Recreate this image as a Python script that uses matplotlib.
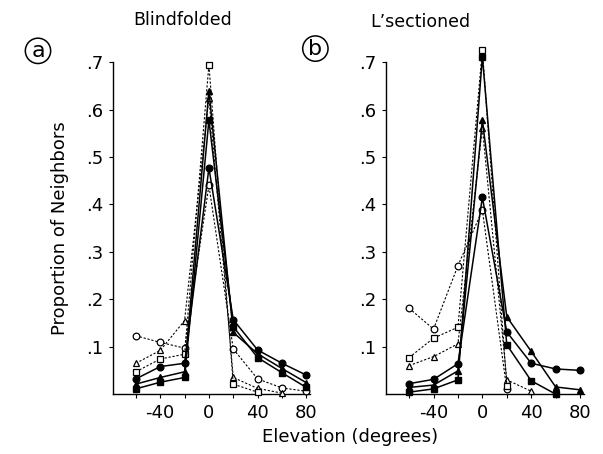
import matplotlib.pyplot as plt
import numpy as np

# elevation (degrees)
elev = [-60, -40, -20, 0, 20, 40, 60, 80]
nan = np.nan

# (a) Blindfolded
a_fcirc = [0.032, 0.058, 0.065, 0.477, 0.157, 0.093, 0.065, 0.040]
a_ftri = [0.021, 0.035, 0.047, 0.640, 0.130, 0.085, 0.054, 0.024]
a_fsq = [0.011, 0.025, 0.035, 0.578, 0.142, 0.077, 0.045, 0.014]
a_ocirc = [0.123, 0.109, 0.097, 0.440, 0.095, 0.032, 0.013, 0.006]
a_otri = [0.065, 0.092, 0.155, 0.625, 0.035, 0.012, 0.002, nan]
a_osq = [0.047, 0.074, 0.084, 0.695, 0.021, 0.004, nan, nan]

# (b) L'sectioned
b_fcirc = [0.022, 0.031, 0.064, 0.415, 0.131, 0.065, 0.053, 0.050]
b_ftri = [0.014, 0.019, 0.049, 0.578, 0.163, 0.090, 0.015, 0.009]
b_fsq = [0.004, 0.011, 0.030, 0.712, 0.104, 0.028, 0.0, nan]
b_ocirc = [0.181, 0.137, 0.271, 0.388, 0.010, nan, nan, nan]
b_otri = [0.060, 0.079, 0.106, 0.562, 0.030, 0.006, nan, nan]
b_osq = [0.077, 0.118, 0.141, 0.726, 0.018, nan, nan, nan]

yticks = [0.1, 0.2, 0.3, 0.4, 0.5, 0.6, 0.7]
ytick_labels = ['.1', '.2', '.3', '.4', '.5', '.6', '.7']
xticks = [-60, -40, -20, 0, 20, 40, 60, 80]
xtick_labels = ['', '-40', '', '0', '', '40', '', '80']

plt.rcParams['font.family'] = 'DejaVu Sans'

fig = plt.figure(figsize=(6.03, 4.54), dpi=100)
ax_a = fig.add_axes([0.187, 0.132, 0.327, 0.731])
ax_b = fig.add_axes([0.640, 0.132, 0.328, 0.731])

dash = (0, (2.0, 1.6))


def draw_panel(ax, fcirc, ftri, fsq, ocirc, otri, osq):
    solid = dict(color='black', lw=1.1, ms=4.8, mfc='black', mec='black', clip_on=False)
    dashed = dict(color='black', lw=0.8, ls=dash, ms=4.8, mfc='white', mec='black',
                  mew=0.9, clip_on=False)
    ax.plot(elev, ocirc, marker='o', zorder=3, **dashed)
    ax.plot(elev, otri, marker='^', zorder=3, **dashed)
    ax.plot(elev, osq, marker='s', zorder=3, **dashed)
    ax.plot(elev, fcirc, marker='o', zorder=4, **solid)
    ax.plot(elev, ftri, marker='^', zorder=4, **solid)
    ax.plot(elev, fsq, marker='s', zorder=4, **solid)

    ax.set_xlim(-79, 83)
    ax.set_ylim(0, 0.70)
    ax.set_xticks(xticks)
    ax.set_xticklabels(xtick_labels, fontsize=13)
    ax.set_yticks(yticks)
    ax.set_yticklabels(ytick_labels, fontsize=13)
    ax.tick_params(direction='out', length=3, width=0.8, pad=4)
    for s in ['top', 'right']:
        ax.spines[s].set_visible(False)
    for s in ['left', 'bottom']:
        ax.spines[s].set_linewidth(1.0)


draw_panel(ax_a, a_fcirc, a_ftri, a_fsq, a_ocirc, a_otri, a_osq)
draw_panel(ax_b, b_fcirc, b_ftri, b_fsq, b_ocirc, b_otri, b_osq)

ax_a.set_ylabel('Proportion of Neighbors', fontsize=13, labelpad=12)

fig.text(0.303, 0.955, 'Blindfolded', ha='center', va='center', fontsize=12.5)
fig.text(0.697, 0.952, "L\u2019sectioned", ha='center', va='center', fontsize=12.5)
fig.text(0.58, 0.037, 'Elevation (degrees)', ha='center', va='center', fontsize=13)

circ = dict(boxstyle='circle,pad=0.12', fc='white', ec='black', lw=1.1)
fig.text(0.063, 0.888, 'a', ha='center', va='center', fontsize=16, bbox=circ)
fig.text(0.523, 0.893, 'b', ha='center', va='center', fontsize=16, bbox=circ)

fig.savefig('out.png', dpi=100)
